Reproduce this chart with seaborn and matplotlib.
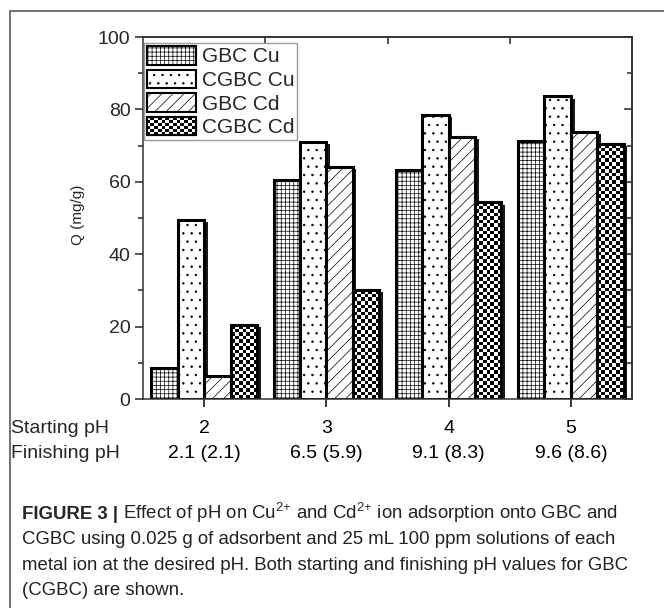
import matplotlib
matplotlib.use("Agg")
import matplotlib.pyplot as plt
import numpy as np
import pandas as pd
import seaborn as sns
from matplotlib.patches import Patch, Rectangle
from matplotlib.lines import Line2D
from matplotlib.legend_handler import HandlerBase

# data
start_ph = ["2", "3", "4", "5"]
finish_ph = ["2.1 (2.1)", "6.5 (5.9)", "9.1 (8.3)", "9.6 (8.6)"]
series = ["GBC Cu", "CGBC Cu", "GBC Cd", "CGBC Cd"]
gbc_cu = [8.5, 60.5, 63.2, 71.2]
cgbc_cu = [49.4, 71.0, 78.5, 83.6]
gbc_cd = [6.3, 64.0, 72.3, 73.7]
cgbc_cd = [20.4, 30.1, 54.3, 70.4]

hatches = {"GBC Cu": "++++", "CGBC Cu": "..", "GBC Cd": "///", "CGBC Cd": None}

df = pd.DataFrame({
    "start": start_ph * 4,
    "series": np.repeat(series, 4),
    "Q": gbc_cu + cgbc_cu + gbc_cd + cgbc_cd,
})

sns.set_theme(style="ticks")
plt.rcParams["font.family"] = ["Liberation Sans", "DejaVu Sans"]
plt.rcParams["hatch.linewidth"] = 0.5
plt.rcParams["mathtext.fontset"] = "custom"
plt.rcParams["mathtext.rm"] = "Liberation Sans"

W, H = 664, 608
fig = plt.figure(figsize=(W / 100, H / 100), dpi=100)
ax = fig.add_axes([143 / W, 1 - 399 / H, 489 / W, 362 / H])

sns.barplot(data=df, x="start", y="Q", hue="series", hue_order=series,
            palette={s: "white" for s in series}, saturation=1,
            width=0.865, gap=0, edgecolor="black", linewidth=2.2,
            legend=False, ax=ax, zorder=2)

ax.set_xlim(-0.5, 3.5)
ax.set_ylim(0, 100)

px_x = 489 / 4.0      # pixels per x unit
px_y = 362 / 100.0    # pixels per y unit
checker_px = 3.6


def checker(nx, ny):
    return (np.add.outer(np.arange(ny), np.arange(nx)) % 2).astype(float)


for name, cont in zip(series, ax.containers):
    for bar in cont:
        x0, w, h = bar.get_x(), bar.get_width(), bar.get_height()
        # drop shadow to the right
        ax.add_patch(Rectangle((x0 + 0.03, 0), w, max(h - 0.6, 0),
                               facecolor="#1a1a1a", edgecolor="none", zorder=1.5))
        if hatches[name]:
            bar.set_hatch(hatches[name])
        else:
            nx = max(int(round(w * px_x / checker_px)), 1)
            ny = max(int(round(h * px_y / checker_px)), 1)
            im = ax.imshow(checker(nx, ny), cmap="gray", vmin=0, vmax=1,
                           extent=(x0, x0 + w, 0, h), aspect="auto",
                           interpolation="nearest", zorder=2.1)
            im.set_clip_path(bar)
            ax.add_patch(Rectangle((x0, 0), w, h, facecolor="none",
                                   edgecolor="black", linewidth=2.2, zorder=2.2))

ax.set_xlim(-0.5, 3.5)
ax.set_ylim(0, 100)
ax.set_aspect("auto")

# axes styling
for sp in ax.spines.values():
    sp.set_linewidth(1.1)
    sp.set_color("#333333")
    sp.set_visible(True)

ax.set_xticks(range(4))
ax.set_xticklabels([f"{s}\n{f}" for s, f in zip(start_ph, finish_ph)],
                   fontsize=14, linespacing=1.65)
ax.set_yticks(range(0, 101, 20))
ax.set_yticks(range(10, 100, 20), minor=True)
ax.tick_params(axis="x", direction="out", length=6, width=1.1, pad=9, colors="black")
ax.tick_params(axis="y", which="major", direction="out", length=6, width=1.1,
               labelsize=14, pad=3)
ax.tick_params(axis="y", which="minor", direction="out", length=3.5, width=1.1)
ax.set_xlabel("")
ax.set_ylabel("Q (mg/g)", fontsize=11)
ax.yaxis.set_label_coords(-0.118, 0.51)

top = ax.secondary_xaxis("top")
top.set_xticks([0.5, 1.5, 2.5])
top.tick_params(direction="in", length=5, width=1.1, labeltop=False)
top.spines["top"].set_linewidth(1.1)
right = ax.secondary_yaxis("right")
right.set_yticks(range(0, 101, 20))
right.set_yticks(range(10, 100, 20), minor=True)
right.tick_params(which="major", direction="in", length=6, width=1.1, labelright=False)
right.tick_params(which="minor", direction="in", length=3.5, width=1.1)
right.spines["right"].set_linewidth(1.1)

# row headers for the two rows of x labels
fig.draw_without_rendering()
tl = ax.get_xticklabels()[0].get_window_extent()
fig.text(11 / W, tl.y1 / H, "Starting pH\nFinishing pH", ha="left", va="top",
         fontsize=14, linespacing=1.65)


class CheckerHandler(HandlerBase):
    def create_artists(self, legend, orig_handle, xdescent, ydescent,
                       width, height, fontsize, trans):
        arts = []
        n_x, n_y = 13, 6
        dx, dy = width / n_x, height / n_y
        arts.append(Rectangle((-xdescent, -ydescent), width, height,
                              facecolor="white", edgecolor="black", lw=1.5,
                              transform=trans))
        for i in range(n_x):
            for j in range(n_y):
                if (i + j) % 2 == 0:
                    arts.append(Rectangle((-xdescent + i * dx, -ydescent + j * dy), dx, dy,
                                          facecolor="black", edgecolor="none",
                                          transform=trans))
        arts.append(Rectangle((-xdescent, -ydescent), width, height,
                              facecolor="none", edgecolor="black", lw=1.5,
                              transform=trans))
        return arts


handles = [Patch(facecolor="white", edgecolor="black", lw=1.5, hatch=hatches[s])
           for s in series[:3]]
checker_handle = Patch(facecolor="white", edgecolor="black")
handles.append(checker_handle)
leg = ax.legend(handles, series, loc="upper left", bbox_to_anchor=(0.0, 0.985),
                fontsize=15, frameon=True, fancybox=False, framealpha=1,
                edgecolor="#999999", borderpad=0.12, borderaxespad=0.05,
                handlelength=2.35, handleheight=1.0, handletextpad=0.3,
                labelspacing=0.15, handler_map={checker_handle: CheckerHandler()})
leg.get_frame().set_linewidth(1.0)
leg.set_zorder(5)

# figure frame (caption box border)
fig.add_artist(Line2D([10 / W, 1], [1 - 11 / H] * 2, color="#666666", lw=1.3))
fig.add_artist(Line2D([10 / W] * 2, [0, 1 - 11 / H], color="#666666", lw=1.3))

# caption
cap_font = ["Liberation Sans", "DejaVu Sans"]
cap_size = 13.4
lines = [
    " Effect of pH on Cu$^{2{+}}$ and Cd$^{2{+}}$ ion adsorption onto GBC and",
    "CGBC using 0.025 g of adsorbent and 25 mL 100 ppm solutions of each",
    "metal ion at the desired pH. Both starting and finishing pH values for GBC",
    "(CGBC) are shown.",
]
y0 = 1 - 519 / H
pitch = 25.3 / H
bold = fig.text(22 / W, y0, "FIGURE 3 |", fontsize=cap_size, fontweight="bold",
                family=cap_font, va="baseline")
fig.canvas.draw()
bb = bold.get_window_extent(fig.canvas.get_renderer())
fig.text(bb.x1 / W, y0, lines[0], fontsize=cap_size, family=cap_font, va="baseline",
         color="#222222")
for k, line in enumerate(lines[1:], start=1):
    fig.text(22 / W, y0 - k * pitch, line, fontsize=cap_size, family=cap_font,
             va="baseline", color="#222222")

fig.savefig("out.png", dpi=100)
plt.close(fig)
